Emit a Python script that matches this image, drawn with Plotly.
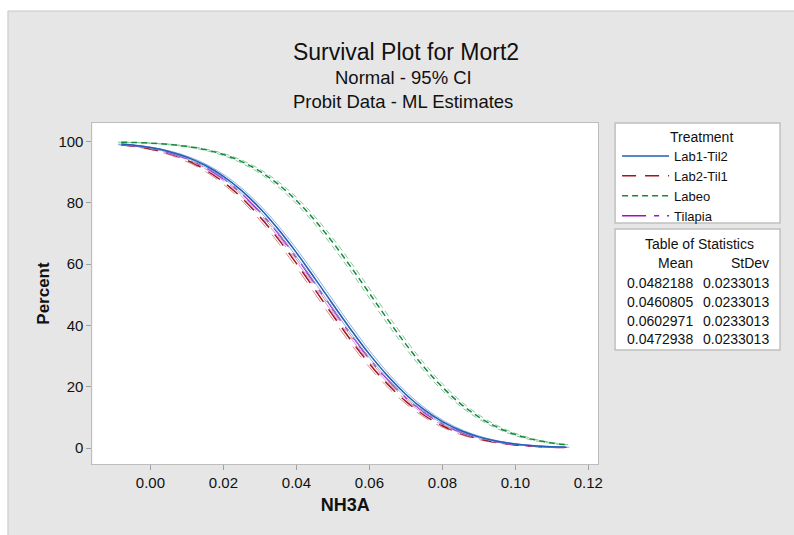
import plotly.graph_objects as go

# ---------------- data ----------------
nh3a = [-0.008, -0.005, 0.000, 0.005, 0.010, 0.015, 0.020, 0.025, 0.030, 0.035,
        0.040, 0.045, 0.050, 0.055, 0.060, 0.065, 0.070, 0.075, 0.080, 0.085,
        0.090, 0.095, 0.100, 0.105, 0.110, 0.114]

lab1_til2 = [99.21, 98.88, 98.07, 96.82, 94.95, 92.30, 88.71, 84.05, 78.29, 71.47,
             63.78, 55.49, 46.95, 38.55, 30.66, 23.57, 17.50, 12.52, 8.63, 5.72,
             3.65, 2.23, 1.31, 0.74, 0.40, 0.24]
lab2_til1 = [98.99, 98.58, 97.60, 96.10, 93.92, 90.89, 86.85, 81.72, 75.49, 68.28,
             60.29, 51.85, 43.32, 35.09, 27.51, 20.84, 15.23, 10.73, 7.27, 4.74,
             2.97, 1.79, 1.03, 0.57, 0.30, 0.18]
labeo = [99.83, 99.75, 99.52, 99.12, 98.46, 97.41, 95.81, 93.51, 90.33, 86.12,
         80.81, 74.42, 67.08, 58.99, 50.51, 42.00, 33.86, 26.40, 19.89, 14.45,
         10.12, 6.82, 4.42, 2.75, 1.65, 1.06]
tilapia = [99.12, 98.76, 97.88, 96.52, 94.53, 91.71, 87.93, 83.07, 77.10, 70.11,
           62.29, 53.92, 45.38, 37.04, 29.28, 22.36, 16.49, 11.72, 8.02, 5.28,
           3.34, 2.03, 1.19, 0.66, 0.36, 0.21]

treatments = ["Lab1-Til2", "Lab2-Til1", "Labeo", "Tilapia"]
means = ["0.0482188", "0.0460805", "0.0602971", "0.0472938"]
stdevs = ["0.0233013", "0.0233013", "0.0233013", "0.0233013"]
ci_shift = [0.0008, 0.0008, 0.0009, 0.0008]   # horizontal half-width of the 95% CI band

x_ticks = [0.00, 0.02, 0.04, 0.06, 0.08, 0.10, 0.12]
y_ticks = [0, 20, 40, 60, 80, 100]

# ---------------- styles ----------------
W, H = 794, 535
FONT = "Liberation Sans, Arial, sans-serif"
series = {
    "Lab1-Til2": dict(y=lab1_til2, color="#1f5fb4", ci="#8db4e2", dash="solid", rank=1),
    "Lab2-Til1": dict(y=lab2_til1, color="#a3141e", ci="#d98c8c", dash="14px,9px", rank=2),
    "Labeo": dict(y=labeo, color="#17893c", ci="#86c79b", dash="6px,4px", rank=3),
    "Tilapia": dict(y=tilapia, color="#9a12c8", ci="#d392e8", dash="24px,8px,5px,8px", rank=4),
}
draw_order = ["Labeo", "Lab2-Til1", "Tilapia", "Lab1-Til2"]


def px(x):
    return x / W


def py(y):
    return 1 - y / H


fig = go.Figure()
for name in draw_order:
    s = series[name]
    i = treatments.index(name)
    for sgn in (-1, 1):
        fig.add_trace(go.Scatter(
            x=[v + sgn * ci_shift[i] for v in nh3a], y=s["y"], mode="lines",
            line=dict(color=s["ci"], width=1, dash=s["dash"], shape="spline"),
            showlegend=False, hoverinfo="skip"))
    fig.add_trace(go.Scatter(
        x=nh3a, y=s["y"], mode="lines", name=name, legendrank=s["rank"],
        line=dict(color=s["color"], width=1.5, dash=s["dash"], shape="spline")))

axis_common = dict(
    showgrid=False, zeroline=False, showline=True, mirror=True,
    linecolor="#bdbdbd", linewidth=1, ticks="outside", ticklen=5,
    tickcolor="#a0a0a0", tickfont=dict(family=FONT, size=15, color="#111"),
)

shapes = [
    dict(type="rect", xref="paper", yref="paper", x0=px(8), x1=1.01, y0=-0.03, y1=py(11),
         fillcolor="#e6e6e6", line=dict(color="#c6c6c6", width=1), layer="below"),
    dict(type="rect", xref="x domain", yref="y domain", x0=0, x1=1, y0=0, y1=1,
         fillcolor="white", line=dict(width=0), layer="below"),
    dict(type="rect", xref="paper", yref="paper", x0=px(619), x1=px(785), y0=py(223), y1=py(123),
         fillcolor="white", line=dict(color="#c0c0c0", width=1.5), layer="below"),
    dict(type="rect", xref="paper", yref="paper", x0=px(619), x1=px(785), y0=py(350), y1=py(229),
         fillcolor="white", line=dict(color="#c0c0c0", width=1.5), layer="below"),
]

annotations = [
    dict(text="Normal - 95% CI", x=px(406), y=py(78), font=dict(size=18.5, family=FONT, color="#111")),
    dict(text="Probit Data - ML Estimates", x=px(406), y=py(101), font=dict(size=18.5, family=FONT, color="#111")),
    dict(text="Treatment", x=px(706), y=py(137), font=dict(size=14, family=FONT, color="#111")),
    dict(text="Table of Statistics", x=px(704), y=py(244), font=dict(size=14, family=FONT, color="#111")),
    dict(text="Mean", x=px(699), y=py(263), xanchor="right", font=dict(size=14, family=FONT, color="#111")),
    dict(text="StDev", x=px(776), y=py(263), xanchor="right", font=dict(size=14, family=FONT, color="#111")),
]
row_y = [283, 302, 321, 339]
for m, s, yy in zip(means, stdevs, row_y):
    annotations.append(dict(text=m, x=px(699), y=py(yy), xanchor="right",
                            font=dict(size=14, family=FONT, color="#111")))
    annotations.append(dict(text=s, x=px(776), y=py(yy), xanchor="right",
                            font=dict(size=14, family=FONT, color="#111")))
for a in annotations:
    a.update(xref="paper", yref="paper", showarrow=False)
    a.setdefault("xanchor", "center")
    a["yanchor"] = "middle"

fig.update_layout(
    width=W, height=H, margin=dict(l=0, r=0, t=0, b=0),
    paper_bgcolor="white", plot_bgcolor="white",
    font=dict(family=FONT, color="#111"),
    title=dict(text="Survival Plot for Mort2", x=px(406), xanchor="center",
               y=py(52), yanchor="middle", yref="container",
               font=dict(size=23, family=FONT, color="#111")),
    xaxis=dict(axis_common, domain=[px(93), px(602)], range=[-0.0159, 0.1227],
               tickvals=x_ticks, tickformat=".2f",
               title=dict(text="<b>NH3A</b>", font=dict(size=18, family=FONT, color="#111"), standoff=8)),
    yaxis=dict(axis_common, domain=[py(464), py(123)], range=[-5.2, 106.1],
               tickvals=y_ticks,
               title=dict(text="<b>Percent</b>", font=dict(size=17, family=FONT, color="#111"), standoff=4)),
    legend=dict(x=px(621), y=py(141), xanchor="left", yanchor="top",
                bgcolor="rgba(0,0,0,0)", borderwidth=0, itemwidth=47,
                font=dict(size=13, family=FONT, color="#111"), tracegroupgap=0),
    shapes=shapes, annotations=annotations,
)

fig.write_html("out.html")
